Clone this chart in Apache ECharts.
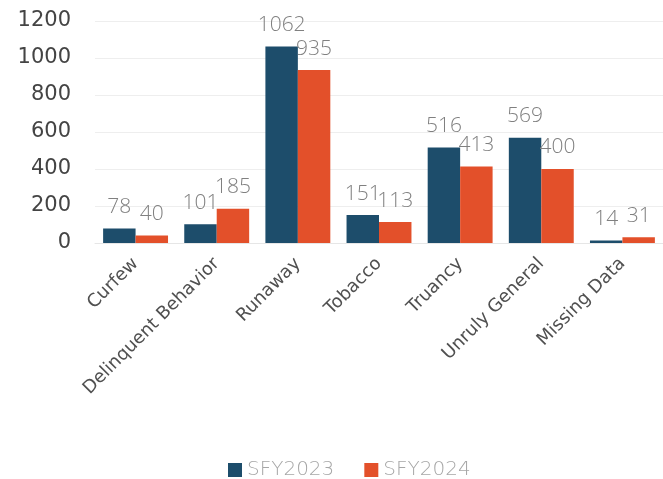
<!DOCTYPE html>
<html><head><meta charset="utf-8">
<script src="https://cdn.jsdelivr.net/npm/echarts@6/dist/echarts.min.js"></script>
<style>html,body{margin:0;padding:0;background:#fff}#c{width:663px;height:479px}</style>
</head><body><div id="c"></div>
<script>
const categories = ["Curfew","Delinquent Behavior","Runaway","Tobacco","Truancy","Unruly General","Missing Data"];
const sfy2023 = [78,101,1062,151,516,569,14];
const sfy2024 = [40,185,935,113,413,400,31];
const yTicks = {min:0, max:1200, interval:200};
const font = 'DejaVu Sans';
const chart = echarts.init(document.getElementById('c'));
const lbl = {show:true, position:'top', distance:11, color:'#808080', fontSize:21, fontFamily:'Open Sans', fontWeight:300};
chart.setOption({
  animation:false,
  grid:{left:95, right:-10, top:21, bottom:236, containLabel:false},
  legend:{top:455, left:223, itemWidth:14, itemHeight:14, itemGap:30, icon:'rect',
    textStyle:{color:'#a6a6a6', fontSize:20, fontFamily:font, fontWeight:300}, data:['SFY2023','SFY2024']},
  xAxis:{type:'category', data:categories,
    axisLine:{show:true, lineStyle:{color:'#e6e6e6'}}, axisTick:{show:false},
    axisLabel:{rotate:45, interval:0, color:'#505050', fontSize:18, fontFamily:font, margin:18}},
  yAxis:{type:'value', min:yTicks.min, max:yTicks.max, interval:yTicks.interval,
    axisLine:{show:false}, axisTick:{show:false},
    splitLine:{lineStyle:{color:'#eeeeee'}},
    axisLabel:{color:'#444', fontSize:21, fontFamily:font, margin:24, formatter:v => String(v)}},
  series:[
    {name:'SFY2023', type:'bar', data:sfy2023, barGap:'0%', barCategoryGap:'20%', itemStyle:{color:'#1d4d6b'}, label:lbl},
    {name:'SFY2024', type:'bar', data:sfy2024, barGap:'0%', barCategoryGap:'20%', itemStyle:{color:'#e3502a'}, label:lbl}
  ]
});
</script></body></html>
